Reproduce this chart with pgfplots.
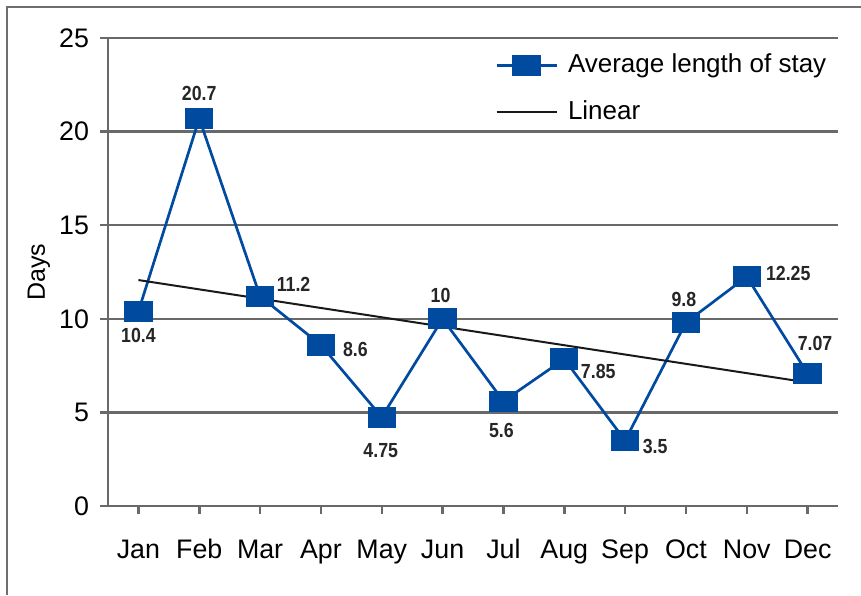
\documentclass[border=0pt]{standalone}
\usepackage{fontspec}
\setmainfont{Liberation Sans}
\newfontfamily\lblfont{Liberation Sans}[FakeStretch=0.87]
\usepackage{pgfplots}
\pgfplotsset{compat=1.18}
\usepackage{pgfplotstable}
\definecolor{lblue}{RGB}{0,74,160}
\definecolor{gridgray}{RGB}{105,105,105}
\definecolor{framegray}{RGB}{110,110,110}

\pgfplotstableread{
x y lab dx dy
0 10.4 10.4 0 -12
1 20.7 20.7 0 12.5
2 11.2 11.2 16.75 6
3 8.6 8.6 17.25 -2
4 4.75 4.75 -0.5 -16.5
5 10 10 -1 11.75
6 5.6 5.6 -1 -14.5
7 7.85 7.85 17 -6
8 3.5 3.5 15 -3
9 9.8 9.8 -1 11.5
10 12.25 12.25 20.75 1.5
11 7.07 7.07 3.75 15.25
}\stay

\begin{document}
\begin{tikzpicture}
\useasboundingbox (0,0) rectangle (430.5pt,297.5pt);
\draw[color=framegray, line width=0.6pt] (3.5pt,0) -- (3.5pt,294pt) -- (430.5pt,294pt);
\begin{axis}[
  at={(54pt,44.5pt)}, anchor=south west,
  scale only axis, width=365pt, height=234pt,
  xmin=-0.5, xmax=11.5, ymin=0, ymax=25,
  axis x line*=bottom, axis y line*=left,
  axis line style={gridgray, line width=1.25pt, -},
  xtick={0,...,11},
  xticklabels={Jan,Feb,Mar,Apr,May,Jun,Jul,Aug,Sep,Oct,Nov,Dec},
  ytick={0,5,...,25},
  ymajorgrids,
  grid style={gridgray, line width=1.25pt},
  major tick length=4pt, tick align=outside,
  tick style={gridgray, line width=1.25pt},
  xticklabel style={font=\fontsize{13.4}{15}\selectfont, yshift=-9pt, text height=9.6pt, text depth=2.8pt},
  yticklabel style={font=\fontsize{13.4}{15}\selectfont, xshift=-2pt},
  /pgf/number format/assume math mode=true,
  ylabel={Days},
  ylabel style={font=\fontsize{12.5}{15}\selectfont, at={(axis description cs:-0.0863,0.5)}, anchor=base, rotate=0},
  clip=false,
  legend image code/.code={\draw[mark repeat=2,mark phase=2] plot coordinates {(0pt,0pt)(15pt,0pt)(30pt,0pt)};},
  legend cell align=left,
  legend style={at={(axis description cs:0.530,0.970)}, anchor=north west, draw=none, fill=none, inner sep=0pt,
    row sep=10.5pt, font=\fontsize{13}{15.6}\selectfont,
    nodes={inner sep=0pt, text height=10pt, text depth=3pt},
    /tikz/every odd column/.append style={column sep=5pt}},
]
\addplot[color=lblue, line width=1.35pt, mark=square*, mark size=4.6pt,
  mark options={xscale=1.4, fill=lblue, draw=lblue, solid},
  point meta=explicit symbolic,
  nodes near coords={\lblfont\bfseries\fontsize{10.2}{11}\selectfont\pgfplotspointmeta},
  nodes near coords align={anchor=center},
  visualization depends on={\thisrow{dx} \as \dx},
  visualization depends on={\thisrow{dy} \as \dy},
  every node near coord/.append style={color=black!85, anchor=center, xshift=\dx pt, yshift=\dy pt, inner sep=0pt},
] table[x=x, y=y, meta=lab] {\stay};
\addlegendentry{Average length of stay}
\addplot[color=black!90, line width=1pt, no marks] coordinates {(0,12.07) (11,6.6)};
\addlegendentry{Linear}
\end{axis}
\end{tikzpicture}
\end{document}
